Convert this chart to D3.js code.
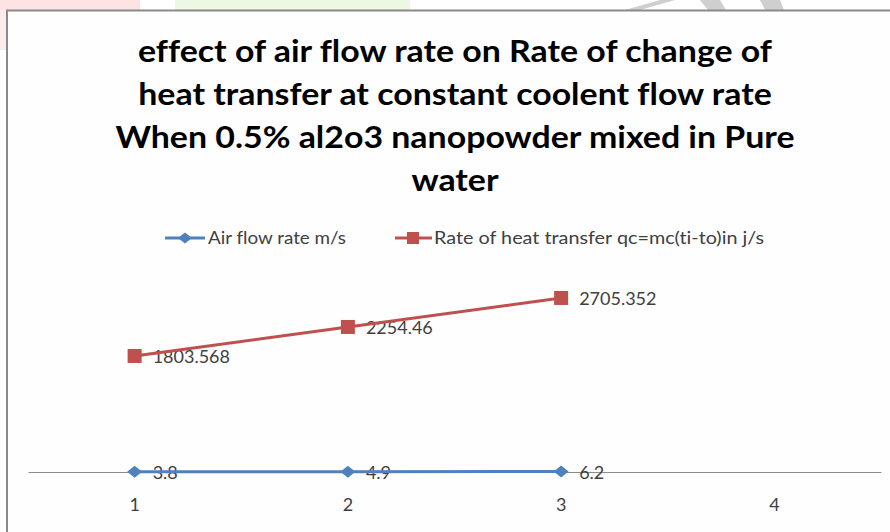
<!DOCTYPE html>
<html><head><meta charset="utf-8">
<script src="https://cdn.jsdelivr.net/npm/d3@7"></script>
<style>html,body{margin:0;padding:0;background:#fff;}svg{display:block;font-variant-ligatures:none;font-feature-settings:"liga" 0;}</style>
</head><body>
<svg id="chart" width="890" height="532"></svg>
<script>
const categories = ["1", "2", "3", "4"];
const airFlow = [3.8, 4.9, 6.2];
const heatRate = [1803.568, 2254.46, 2705.352];
const airLabels = ["3.8", "4.9", "6.2"];
const heatLabels = ["1803.568", "2254.46", "2705.352"];
const seriesNames = ["Air flow rate m/s", "Rate of heat transfer qc=mc(ti-to)in j/s"];
const titleLines = [
  "effect of air flow rate on Rate of change of",
  "heat transfer at constant coolent flow rate",
  "When 0.5% al2o3 nanopowder mixed in Pure",
  "water"
];

const BLUE = "#4F81BD", RED = "#C0504D", TXT = "#404040";
const FONT = "Lato, 'Open Sans', sans-serif";
const svg = d3.select("#chart");

// faint watermark fragments above the chart frame
svg.append("rect").attr("x", 0).attr("y", 0).attr("width", 140).attr("height", 10).attr("fill", "#fde3e3");
svg.append("rect").attr("x", 0).attr("y", 10).attr("width", 6).attr("height", 40).attr("fill", "#fdeaea");
svg.append("rect").attr("x", 175).attr("y", 0).attr("width", 235).attr("height", 10).attr("fill", "#edf7e4");
svg.append("path").attr("d", "M625,10 L660,0 L675,0 L640,10 Z").attr("fill", "#cfcfcf");
svg.append("path").attr("d", "M700,0 L720,0 L726,10 L708,10 Z").attr("fill", "#cfcfcf");
svg.append("path").attr("d", "M760,0 L780,0 L784,10 L765,10 Z").attr("fill", "#cfcfcf");

// frame
svg.append("rect").attr("x", 7).attr("y", 11).attr("width", 890).attr("height", 530).attr("fill", "#fefefe");
svg.append("line").attr("x1", 6).attr("x2", 890).attr("y1", 10.5).attr("y2", 10.5).attr("stroke", "#8a8a8a").attr("stroke-width", 2);
svg.append("line").attr("x1", 7).attr("x2", 7).attr("y1", 10).attr("y2", 532).attr("stroke", "#8a8a8a").attr("stroke-width", 2);

// title
const titleBase = [62, 105, 148, 191];
const tts = svg.append("g").selectAll("text").data(titleLines).join("text")
  .attr("x", 455).attr("y", (d, i) => titleBase[i])
  .attr("text-anchor", "middle")
  .attr("font-family", FONT)
  .attr("font-weight", "bold").attr("font-size", 30).attr("fill", "#000")
  .text(d => d);
const w0 = tts.nodes()[0].getComputedTextLength();
const k = 634 / w0;
tts.each(function() {
  const w = this.getComputedTextLength();
  d3.select(this).attr("textLength", w * k).attr("lengthAdjust", "spacingAndGlyphs");
});

// scales
const x = d3.scaleBand().domain(categories).range([28, 881]);
const cx = c => x(c) + x.bandwidth() / 2;
const y = d3.scaleLinear().domain([0, 3000]).range([472, 279]);

// axis
const ax = svg.append("g").attr("transform", "translate(0,472)")
  .call(d3.axisBottom(x).tickSize(0).tickSizeOuter(0).tickPadding(26));
ax.select(".domain").attr("stroke", "#8c8c8c").attr("stroke-width", 1.2);
ax.selectAll("text").attr("font-family", FONT).attr("font-size", 18).attr("fill", TXT);

const line = d3.line().x((d, i) => cx(categories[i])).y(d => y(d));

// data labels (drawn under lines)
function labels(vals, labs) {
  svg.append("g").selectAll("text").data(vals).join("text")
    .attr("x", (d, i) => cx(categories[i]) + 18)
    .attr("y", d => y(d) + 1)
    .attr("dy", "0.35em")
    .attr("font-family", FONT).attr("font-size", 18).attr("fill", TXT)
    .text((d, i) => labs[i]);
}
labels(heatRate, heatLabels);
labels(airFlow, airLabels);

// heat series
svg.append("path").datum(heatRate).attr("d", line).attr("fill", "none").attr("stroke", RED).attr("stroke-width", 3);
svg.append("g").selectAll("rect").data(heatRate).join("rect")
  .attr("x", (d, i) => cx(categories[i]) - 7).attr("y", d => y(d) - 7)
  .attr("width", 14).attr("height", 14).attr("fill", RED);

// air series
svg.append("path").datum(airFlow).attr("d", line).attr("fill", "none").attr("stroke", BLUE).attr("stroke-width", 3);
const diamond = "M-7.5,0 L0,-6 L7.5,0 L0,6 Z";
svg.append("g").selectAll("path").data(airFlow).join("path")
  .attr("d", diamond)
  .attr("transform", (d, i) => `translate(${cx(categories[i])},${y(d)})`)
  .attr("fill", BLUE);

// legend
const lg = svg.append("g");
lg.append("line").attr("x1", 165).attr("x2", 205).attr("y1", 238).attr("y2", 238).attr("stroke", BLUE).attr("stroke-width", 3);
lg.append("path").attr("d", "M-7,0 L0,-5.5 L7,0 L0,5.5 Z").attr("transform", "translate(185,238)").attr("fill", BLUE);
lg.append("text").attr("x", 208).attr("y", 238).attr("dy", "0.35em")
  .attr("font-family", FONT).attr("font-size", 18).attr("fill", TXT)
  .attr("textLength", 138).attr("lengthAdjust", "spacingAndGlyphs").text(seriesNames[0]);
lg.append("line").attr("x1", 395).attr("x2", 432).attr("y1", 238).attr("y2", 238).attr("stroke", RED).attr("stroke-width", 3);
lg.append("rect").attr("x", 407).attr("y", 232).attr("width", 12).attr("height", 12).attr("fill", RED);
lg.append("text").attr("x", 434).attr("y", 238).attr("dy", "0.35em")
  .attr("font-family", FONT).attr("font-size", 18).attr("fill", TXT)
  .attr("textLength", 330).attr("lengthAdjust", "spacingAndGlyphs").text(seriesNames[1]);
</script>
</body></html>
